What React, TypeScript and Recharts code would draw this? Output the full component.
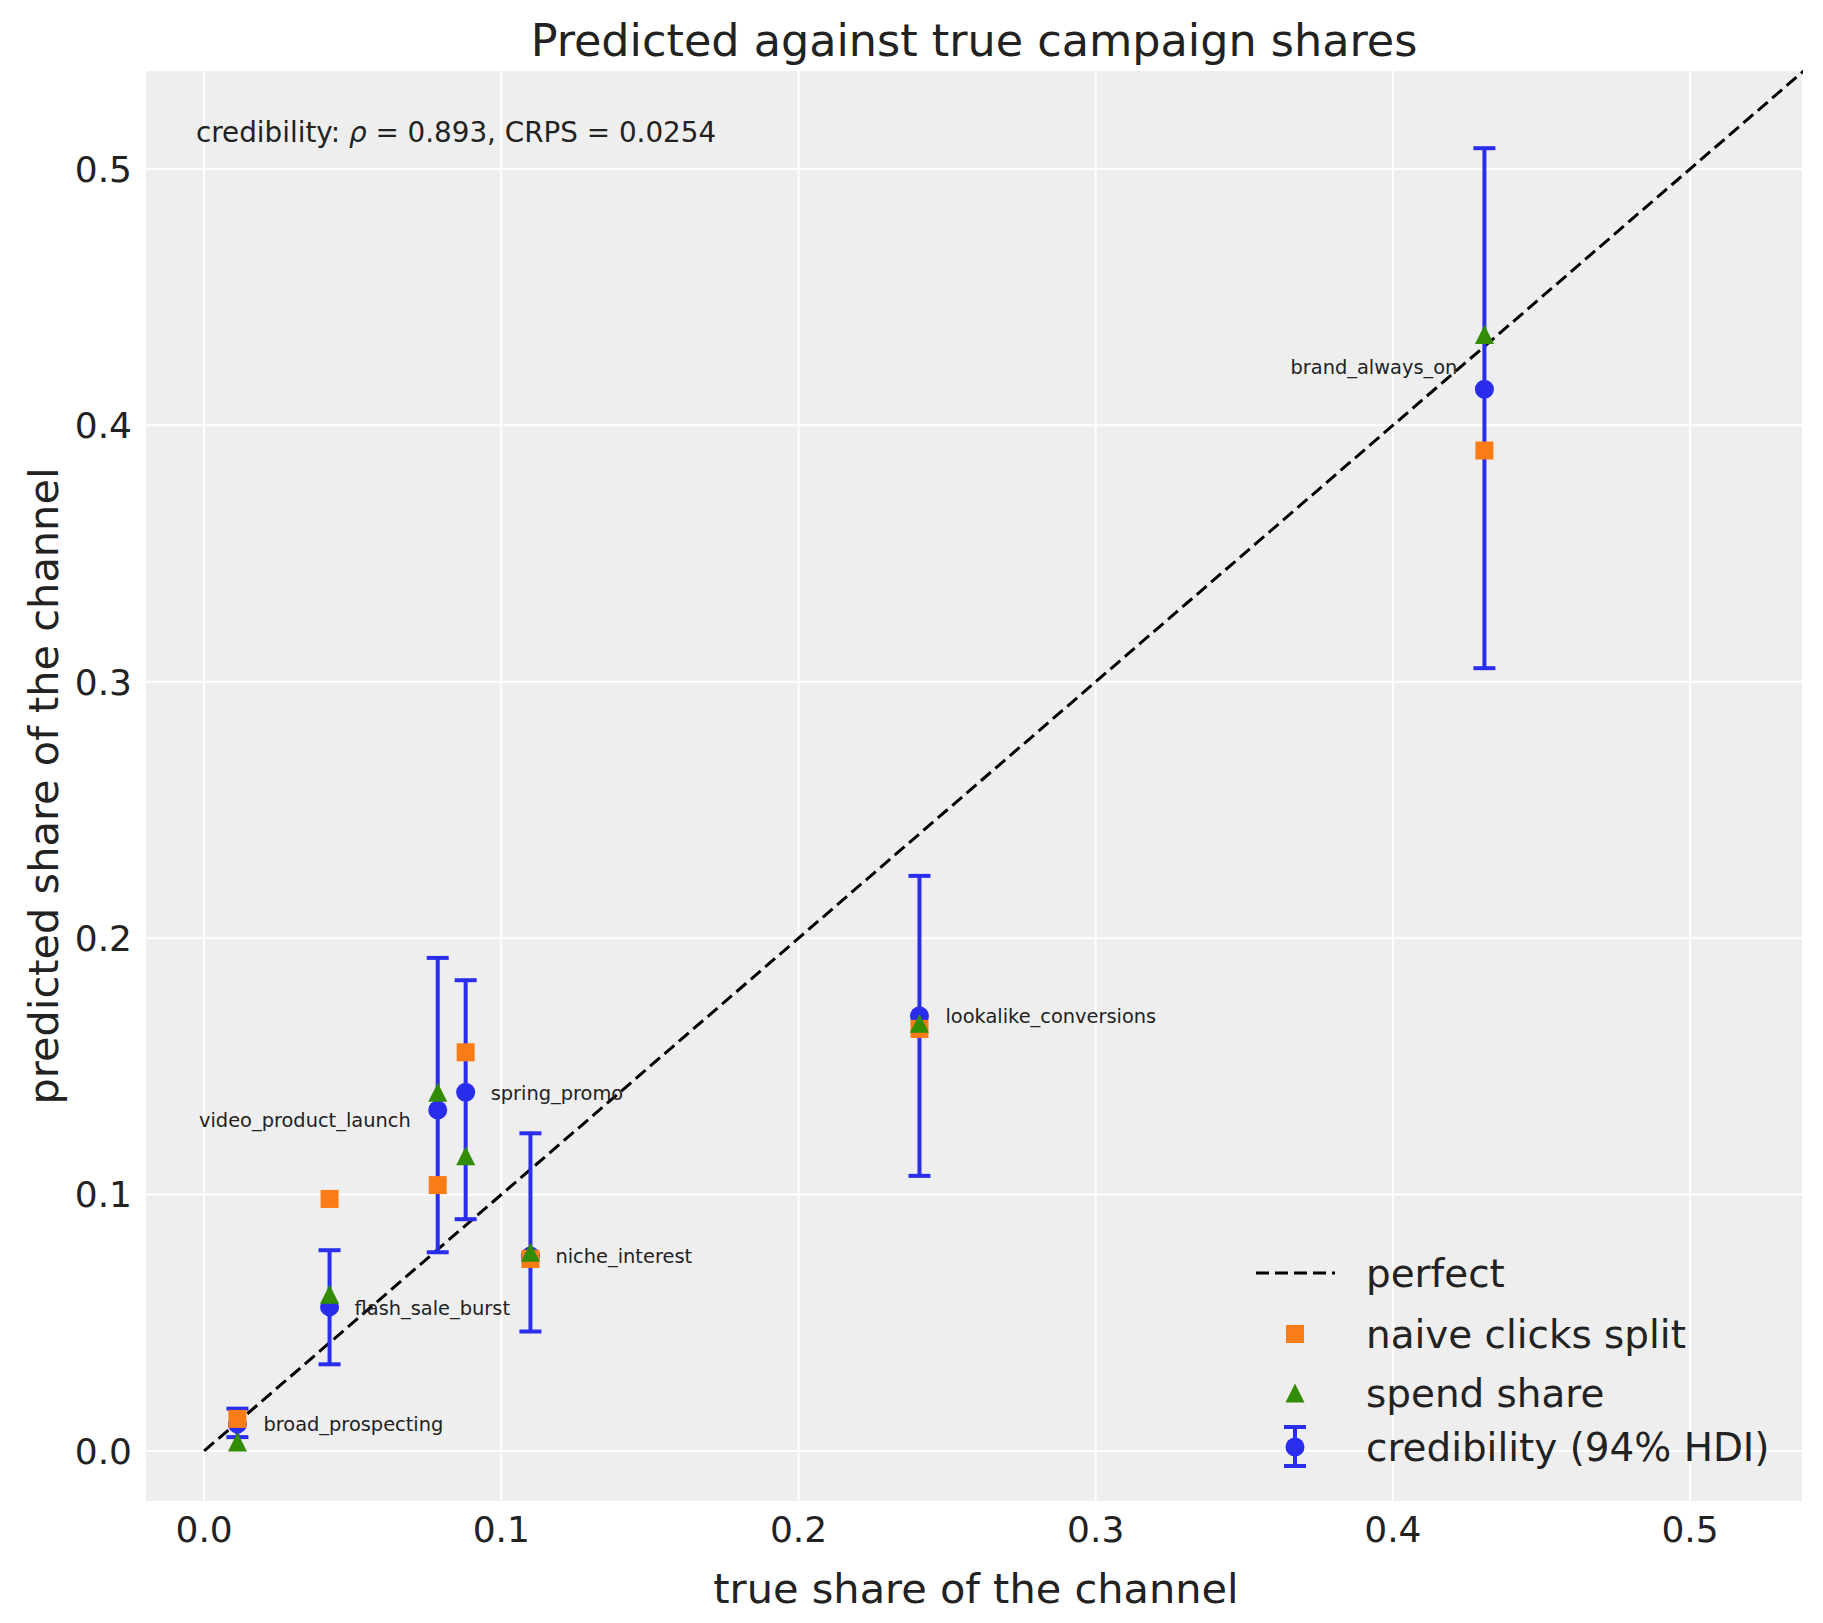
import React from 'react';
import {
  ScatterChart,
  Scatter,
  XAxis,
  YAxis,
  CartesianGrid,
  ErrorBar,
  ReferenceLine,
  Legend,
  Customized,
} from 'recharts';

// campaigns, in the order they were plotted
const channels = [
  'broad_prospecting',
  'flash_sale_burst',
  'video_product_launch',
  'spring_promo',
  'niche_interest',
  'lookalike_conversions',
  'brand_always_on',
];
const trueShare = [0.0112, 0.0422, 0.0786, 0.088, 0.1098, 0.2407, 0.4308];
const credibilityMean = [0.0105, 0.0562, 0.133, 0.1399, 0.076, 0.1697, 0.4141];
const hdiLow = [0.0054, 0.0338, 0.0775, 0.0904, 0.0466, 0.1073, 0.3053];
const hdiHigh = [0.0165, 0.0783, 0.1923, 0.1836, 0.1239, 0.2243, 0.5081];
const naiveClicks = [0.0125, 0.0983, 0.1037, 0.1555, 0.0749, 0.1646, 0.3902];
const spendShare = [0.0035, 0.0611, 0.1399, 0.1151, 0.0775, 0.1668, 0.4354];
const ticks = [0, 0.1, 0.2, 0.3, 0.4, 0.5];

const BLUE = '#2a2eec';
const ORANGE = '#fa7c17';
const GREEN = '#328c06';
const INK = '#222222';
const FONT = '"DejaVu Sans", sans-serif';

const credData = channels.map((name, i) => ({
  name,
  x: trueShare[i],
  y: credibilityMean[i],
  err: [credibilityMean[i] - hdiLow[i], hdiHigh[i] - credibilityMean[i]],
}));
const naiveData = channels.map((name, i) => ({ name, x: trueShare[i], y: naiveClicks[i] }));
const spendData = channels.map((name, i) => ({ name, x: trueShare[i], y: spendShare[i] }));

// where each campaign name sits relative to its credibility point
const labelPlacement: Record<string, { dx: number; dy: number; anchor: string }> = {
  broad_prospecting: { dx: 26, dy: 0, anchor: 'start' },
  flash_sale_burst: { dx: 25, dy: 2, anchor: 'start' },
  video_product_launch: { dx: -27, dy: 11, anchor: 'end' },
  spring_promo: { dx: 25, dy: 1, anchor: 'start' },
  niche_interest: { dx: 25, dy: 0, anchor: 'start' },
  lookalike_conversions: { dx: 26, dy: 1, anchor: 'start' },
  brand_always_on: { dx: -27, dy: -22, anchor: 'end' },
};

const Dot = (p: any) => <circle cx={p.cx} cy={p.cy} r={9.5} fill={BLUE} />;
const Square = (p: any) => <rect x={p.cx - 9} y={p.cy - 9} width={18} height={18} fill={ORANGE} />;
const Triangle = (p: any) => (
  <path
    d={`M${p.cx},${p.cy - 9.5}L${p.cx + 9.5},${p.cy + 9.5}L${p.cx - 9.5},${p.cy + 9.5}Z`}
    fill={GREEN}
  />
);
const NameLabel = (p: any) => {
  const place = labelPlacement[p.payload.name];
  return (
    <text
      x={p.cx + place.dx}
      y={p.cy + place.dy}
      textAnchor={place.anchor}
      dominantBaseline="central"
      fontFamily={FONT}
      fontSize={19.4}
      fill={INK}
    >
      {p.payload.name}
    </text>
  );
};

const LegendBox = () => {
  const rows = [43, 104, 163, 217];
  const textProps = {
    x: 126,
    fontFamily: FONT,
    fontSize: 38.9,
    fill: INK,
    dominantBaseline: 'central' as const,
  };
  return (
    <svg width={560} height={250} style={{ display: 'block', overflow: 'visible' }}>
      <line x1={16} x2={95} y1={rows[0]} y2={rows[0]} stroke="#000" strokeWidth={3} strokeDasharray="13 6" />
      <text {...textProps} y={rows[0]}>perfect</text>
      <rect x={46} y={rows[1] - 9} width={18} height={18} fill={ORANGE} />
      <text {...textProps} y={rows[1]}>naive clicks split</text>
      <path d={`M55,${rows[2] - 9.5}L64.5,${rows[2] + 9.5}L45.5,${rows[2] + 9.5}Z`} fill={GREEN} />
      <text {...textProps} y={rows[2]}>spend share</text>
      <g stroke={BLUE} strokeWidth={4}>
        <line x1={55} x2={55} y1={rows[3] - 20} y2={rows[3] + 19} />
        <line x1={44} x2={66} y1={rows[3] - 20} y2={rows[3] - 20} />
        <line x1={44} x2={66} y1={rows[3] + 19} y2={rows[3] + 19} />
      </g>
      <circle cx={55} cy={rows[3]} r={9.5} fill={BLUE} />
      <text {...textProps} y={rows[3]}>credibility (94% HDI)</text>
    </svg>
  );
};

const Annotations = () => (
  <g fontFamily={FONT} fill={INK}>
    <text x={974} y={40} textAnchor="middle" dominantBaseline="central" fontSize={44.5}>
      Predicted against true campaign shares
    </text>
    <text x={976} y={1588} textAnchor="middle" dominantBaseline="central" fontSize={41.5}>
      true share of the channel
    </text>
    <text
      transform="translate(43,786) rotate(-90)"
      textAnchor="middle"
      dominantBaseline="central"
      fontSize={41.5}
    >
      predicted share of the channel
    </text>
    <text x={196} y={132} dominantBaseline="central" fontSize={27.8}>
      credibility: <tspan fontStyle="italic">ρ</tspan> = 0.893, CRPS = 0.0254
    </text>
  </g>
);

export default function App() {
  return (
    <div style={{ position: 'absolute', left: 0, top: 0, background: '#fff' }}>
      <ScatterChart width={1823} height={1623} margin={{ top: 70, right: 20, bottom: 0, left: 0 }}>
        <CartesianGrid fill="#eeeeee" stroke="#ffffff" strokeWidth={2} />
        <XAxis
          type="number"
          dataKey="x"
          domain={[-0.0199, 0.538]}
          ticks={ticks}
          allowDataOverflow
          height={121}
          axisLine={false}
          tickLine={false}
          tickSize={0}
          tickMargin={14}
          tickFormatter={(v: number) => v.toFixed(1)}
          tick={{ fontSize: 36, fill: INK, fontFamily: FONT }}
        />
        <YAxis
          type="number"
          dataKey="y"
          domain={[-0.0199, 0.5386]}
          ticks={ticks}
          allowDataOverflow
          width={145}
          axisLine={false}
          tickLine={false}
          tickSize={0}
          tickMargin={13}
          tickFormatter={(v: number) => v.toFixed(1)}
          tick={{ fontSize: 36, fill: INK, fontFamily: FONT }}
        />
        <ReferenceLine
          segment={[
            { x: 0, y: 0 },
            { x: 0.6, y: 0.6 },
          ]}
          ifOverflow="hidden"
          stroke="#000"
          strokeWidth={3}
          strokeDasharray="13 6"
        />
        <Scatter name="credibility (94% HDI)" data={credData} shape={Dot} isAnimationActive={false}>
          <ErrorBar dataKey="err" direction="y" width={11} stroke={BLUE} strokeWidth={4} isAnimationActive={false} />
        </Scatter>
        <Scatter name="naive clicks split" data={naiveData} shape={Square} isAnimationActive={false} />
        <Scatter name="spend share" data={spendData} shape={Triangle} isAnimationActive={false} />
        <Scatter name="labels" data={credData} shape={NameLabel} legendType="none" isAnimationActive={false} />
        <Legend
          layout="vertical"
          align="center"
          verticalAlign="middle"
          content={LegendBox}
          wrapperStyle={{ left: 1240, top: 1230, width: 560, height: 250 }}
        />
        <Customized component={Annotations} />
      </ScatterChart>
    </div>
  );
}
